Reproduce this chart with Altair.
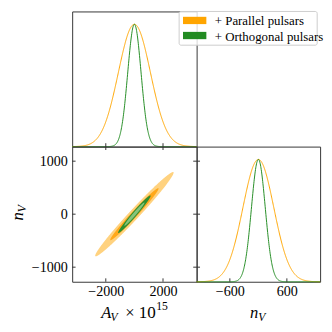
import numpy as np
import pandas as pd
import altair as alt

# ---- values ----
series = ["Parallel", "Orthogonal"]
legend_labels = ["+ Parallel pulsars", "+ Orthogonal pulsars"]
line_colors = ["#FFA500", "#228B22"]
mean_A = [0.0, 0.0]
mean_n = [0.0, 0.0]
sigma_A = [1120.0, 465.0]
sigma_n = [325.0, 145.0]
rho = [0.985, 0.98]
outer_fill = ["#FFD27F", "#2F8F2F"]
inner_fill = ["#FFA81A", "#86C47A"]
chi2_levels = [5.991, 2.279]          # 95% and 68% 2-D levels
A_ticks = [-2000, 2000]
n_ticks = [-1000, 0, 1000]
n_ticks_1d = [-600, 600]
A_domain = [-4350, 4350]
n_domain_y = [-1275, 1275]
n_domain_x = [-1300, 1300]
dens_domain = [0, 1.105]

W, H = 128, 139
FONT = "'Liberation Serif', 'Times New Roman', Times, serif"
AX = "#333333"

# ---- 1-D marginals ----
def marginal(mu, s, dom):
    xs = np.linspace(dom[0], dom[1], 500)
    return pd.DataFrame({"v": xs, "p": np.exp(-0.5 * ((xs - mu) / s) ** 2)})

def ellipse(i, k):
    t = np.linspace(0, np.pi, 400)
    a = np.sqrt(k) * np.cos(t)
    w = np.sqrt(np.clip((1 - rho[i] ** 2) * (k - a ** 2), 0, None))
    return pd.DataFrame({
        "A": mean_A[i] + sigma_A[i] * a,
        "hi": mean_n[i] + sigma_n[i] * (rho[i] * a + w),
        "lo": mean_n[i] + sigma_n[i] * (rho[i] * a - w),
    })

xA = alt.Scale(domain=A_domain, nice=False, zero=False)
yN = alt.Scale(domain=n_domain_y, nice=False, zero=False)
xN = alt.Scale(domain=n_domain_x, nice=False, zero=False)
yD = alt.Scale(domain=dens_domain, nice=False, zero=False)

def text_piece(txt, x, y, size, italic=False, angle=0):
    return alt.Chart(pd.DataFrame({"t": [txt]})).mark_text(
        font=FONT, fontSize=size, fontStyle="italic" if italic else "normal",
        align="left", baseline="alphabetic", color="black", angle=angle
    ).encode(text="t:N", x=alt.value(x), y=alt.value(y))

# top-left: A_V marginal
tl_layers = []
for i in range(2):
    tl_layers.append(
        alt.Chart(marginal(mean_A[i], sigma_A[i], A_domain)).mark_line(
            color=line_colors[i], strokeWidth=1
        ).encode(x=alt.X("v:Q", scale=xA, axis=None),
                 y=alt.Y("p:Q", scale=yD, axis=None))
    )
top_left = alt.layer(*tl_layers).properties(width=W, height=H)

# bottom-left: 2-D contours
bl_layers = []
for i in range(2):
    for k, fills in zip(chi2_levels, [outer_fill, inner_fill]):
        bl_layers.append(
            alt.Chart(ellipse(i, k)).mark_area(color=fills[i], opacity=1).encode(
                x=alt.X("A:Q", scale=xA,
                        axis=alt.Axis(values=A_ticks, format="d", ticks=False, domain=False,
                                      grid=False, labelFont=FONT, labelFontSize=14.5,
                                      labelColor="black", labelPadding=3, title=None)),
                y=alt.Y("hi:Q", scale=yN,
                        axis=alt.Axis(values=n_ticks, format="d", ticks=False, domain=False,
                                      grid=False, labelFont=FONT, labelFontSize=14.5,
                                      labelColor="black", labelPadding=5, title=None)),
                y2="lo:Q",
            )
        )
dfA = pd.DataFrame({"A": A_ticks})
dfN = pd.DataFrame({"n": n_ticks})
bl_layers += [
    alt.Chart(dfA).mark_rule(color=AX, strokeWidth=1).encode(
        x=alt.X("A:Q", scale=xA), y=alt.value(-3.5), y2=alt.value(3.5)),
    alt.Chart(dfA).mark_rule(color=AX, strokeWidth=1).encode(
        x=alt.X("A:Q", scale=xA), y=alt.value(H - 3.5), y2=alt.value(H)),
    alt.Chart(dfN).mark_rule(color=AX, strokeWidth=1).encode(
        y=alt.Y("n:Q", scale=yN), x=alt.value(0), x2=alt.value(3.5)),
    alt.Chart(dfN).mark_rule(color=AX, strokeWidth=1).encode(
        y=alt.Y("n:Q", scale=yN), x=alt.value(W - 3.5), x2=alt.value(W + 3.5)),
    # x title  A_V x 10^15
    text_piece("A", 30, 176, 17, italic=True),
    text_piece("V", 39.5, 179, 12, italic=True),
    text_piece("×", 54.5, 176, 17),
    text_piece("10", 68.5, 176, 17.5),
    text_piece("15", 86.5, 168, 12),
    # y title n_V (rotated)
    text_piece("n", -51, 76, 17, italic=True, angle=270),
    text_piece("V", -48, 67.5, 12, italic=True, angle=270),
]
bottom_left = alt.layer(*bl_layers).properties(width=W, height=H)

# bottom-right: n_V marginal
br_layers = []
for i in range(2):
    br_layers.append(
        alt.Chart(marginal(mean_n[i], sigma_n[i], n_domain_x)).mark_line(
            color=line_colors[i], strokeWidth=1
        ).encode(x=alt.X("v:Q", scale=xN,
                         axis=alt.Axis(values=n_ticks_1d, format="d", ticks=False, domain=False,
                                       grid=False, labelFont=FONT, labelFontSize=14.5,
                                       labelColor="black", labelPadding=3, title=None)),
                 y=alt.Y("p:Q", scale=yD, axis=None))
    )
br_layers += [
    alt.Chart(pd.DataFrame({"v": n_ticks_1d})).mark_rule(color=AX, strokeWidth=1).encode(
        x=alt.X("v:Q", scale=xN), y=alt.value(H - 3.5), y2=alt.value(H)),
    text_piece("n", 55, 176, 17, italic=True),
    text_piece("V", 63.5, 179, 12, italic=True),
]
bottom_right = alt.layer(*br_layers).properties(width=W - 1, height=H)

# top-right: legend only
one = pd.DataFrame({"d": [0]})
tr_layers = [
    alt.Chart(one).mark_rect(fill="white", fillOpacity=0.8, stroke="#cccccc",
                             strokeWidth=1, cornerRadius=2).encode(
        x=alt.value(-18), x2=alt.value(124), y=alt.value(0), y2=alt.value(34.7)),
]
patch_y = [(5.5, 13), (21, 28.5)]
text_y = [14, 30]
for i in range(2):
    tr_layers.append(
        alt.Chart(one).mark_rect(fill=line_colors[i]).encode(
            x=alt.value(-14), x2=alt.value(10),
            y=alt.value(patch_y[i][0]), y2=alt.value(patch_y[i][1])))
    tr_layers.append(
        alt.Chart(pd.DataFrame({"t": [legend_labels[i]]})).mark_text(
            font=FONT, fontSize=13.2, align="left", baseline="alphabetic", color="black"
        ).encode(text="t:N", x=alt.value(18.7), y=alt.value(text_y[i])))
top_right = alt.layer(*tr_layers).properties(
    width=W - 1, height=H, view=alt.ViewBackground(stroke="transparent"))

chart = alt.concat(top_left, top_right, bottom_left, bottom_right,
                   columns=2, spacing=0, bounds="flush").properties(
    padding={"left": 0, "top": -2, "right": 0, "bottom": 0}
).configure(font=FONT).configure_view(stroke=AX, strokeWidth=1)

chart.save("out.html", embed_options={"renderer": "svg", "actions": False})
